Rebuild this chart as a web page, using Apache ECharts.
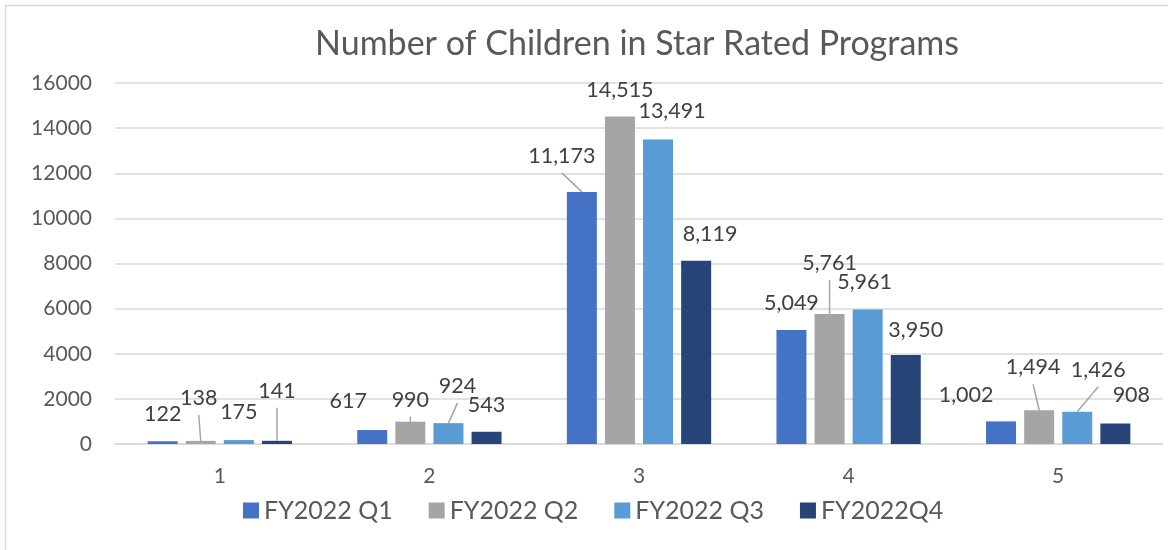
<!DOCTYPE html>
<html>
<head>
<meta charset="utf-8">
<script src="https://cdn.jsdelivr.net/npm/echarts@6/dist/echarts.min.js"></script>
<style>
  html, body { margin: 0; padding: 0; background: #fff; }
  #main { width: 1168px; height: 550px; }
</style>
</head>
<body>
<div id="main"></div>
<script>
// 数据
const categories = ['1', '2', '3', '4', '5'];
const seriesNames = ['FY2022 Q1', 'FY2022 Q2', 'FY2022 Q3', 'FY2022Q4'];
const q1 = [122, 617, 11173, 5049, 1002];
const q2 = [138, 990, 14515, 5761, 1494];
const q3 = [175, 924, 13491, 5961, 1426];
const q4 = [141, 543, 8119, 3950, 908];
const colors = ['#4472C4', '#A5A5A5', '#5B9BD5', '#264478'];

// label shifts (dx, dy) per series / category, and which ones get a leader line
const labelShift = [
  [[0, -11], [-24, -13], [-20, -20], [0, -11], [-35, -10]],
  [[-2, -27], [0, -6], [0, -10], [0, -35], [-6, -27]],
  [[0, -12], [9, -21], [14, -13], [-3, -11], [21, -26]],
  [[0, -34], [0, -11], [14, -11], [10, -9], [16, -12]]
];
const withLine = [
  [false, false, true, false, false],
  [true, true, false, true, true],
  [false, true, false, false, true],
  [true, false, false, false, false]
];

const font = 'Lato, "Open Sans", sans-serif';
const barW = 30;
const barGapPct = 27;
let myChart = echarts.init(document.getElementById('main'));

const allValues = [q1, q2, q3, q4];
const series = allValues.map((vals, si) => ({
  name: seriesNames[si],
  type: 'bar',
  barWidth: barW,
  barGap: barGapPct + '%',
  itemStyle: { color: colors[si] },
  label: {
    show: true,
    position: 'top',
    distance: 5,
    color: '#404040',
    fontSize: 21.5,
    fontFamily: font,
    formatter: p => p.value.toLocaleString('en-US')
  },
  labelLayout: p => ({ dx: labelShift[si][p.dataIndex][0], dy: labelShift[si][p.dataIndex][1] }),
  data: vals
}));

// 指引线：标签底部 -> 柱顶中点
const leaderData = [];
allValues.forEach((vals, si) => vals.forEach((v, i) => {
  if (withLine[si][i]) leaderData.push([i, v, si]);
}));
series.push({
  name: 'leader',
  type: 'custom',
  silent: true,
  z: 3,
  data: leaderData,
  renderItem: (params, api) => {
    const ci = api.value(0), si = api.value(2);
    const p = api.coord([ci, api.value(1)]);
    const bx = p[0] + (si - 1.5) * barW * (1 + barGapPct / 100);
    const sh = labelShift[si][ci];
    return {
      type: 'line',
      shape: { x1: bx + sh[0], y1: p[1] + sh[1] + 1, x2: bx, y2: p[1] },
      style: { stroke: '#A6A6A6', lineWidth: 1.5 }
    };
  }
});

const option = {
  animation: false,
  backgroundColor: '#fff',
  color: colors,
  title: {
    text: 'Number of Children in Star Rated Programs',
    left: 632,
    top: 22,
    textAlign: 'center',
    textStyle: { color: '#595959', fontSize: 34, fontWeight: 'normal', fontFamily: font }
  },
  legend: {
    left: 238,
    top: 493,
    icon: 'rect',
    itemWidth: 16,
    itemHeight: 16,
    itemGap: 36,
    textStyle: { color: '#595959', fontSize: 25, fontFamily: font },
    data: seriesNames
  },
  grid: { left: 115, right: 5, top: 83, bottom: 106 },
  xAxis: {
    type: 'category',
    data: categories,
    axisTick: { show: false },
    axisLine: { lineStyle: { color: '#D9D9D9', width: 1.5 } },
    axisLabel: { color: '#595959', fontSize: 21, fontFamily: font, margin: 22 }
  },
  yAxis: {
    type: 'value',
    min: 0,
    max: 16000,
    interval: 2000,
    axisLine: { show: false },
    axisTick: { show: false },
    splitLine: { lineStyle: { color: '#D9D9D9', width: 1.5 } },
    axisLabel: { color: '#595959', fontSize: 21, fontFamily: font, margin: 23, formatter: v => String(v) }
  },
  graphic: [{
    type: 'rect',
    shape: { x: 5.5, y: 5.5, width: 1200, height: 600 },
    style: { fill: 'none', stroke: '#D9D9D9', lineWidth: 1.5 },
    silent: true
  }],
  series: series
};
myChart.setOption(option);
</script>
</body>
</html>
